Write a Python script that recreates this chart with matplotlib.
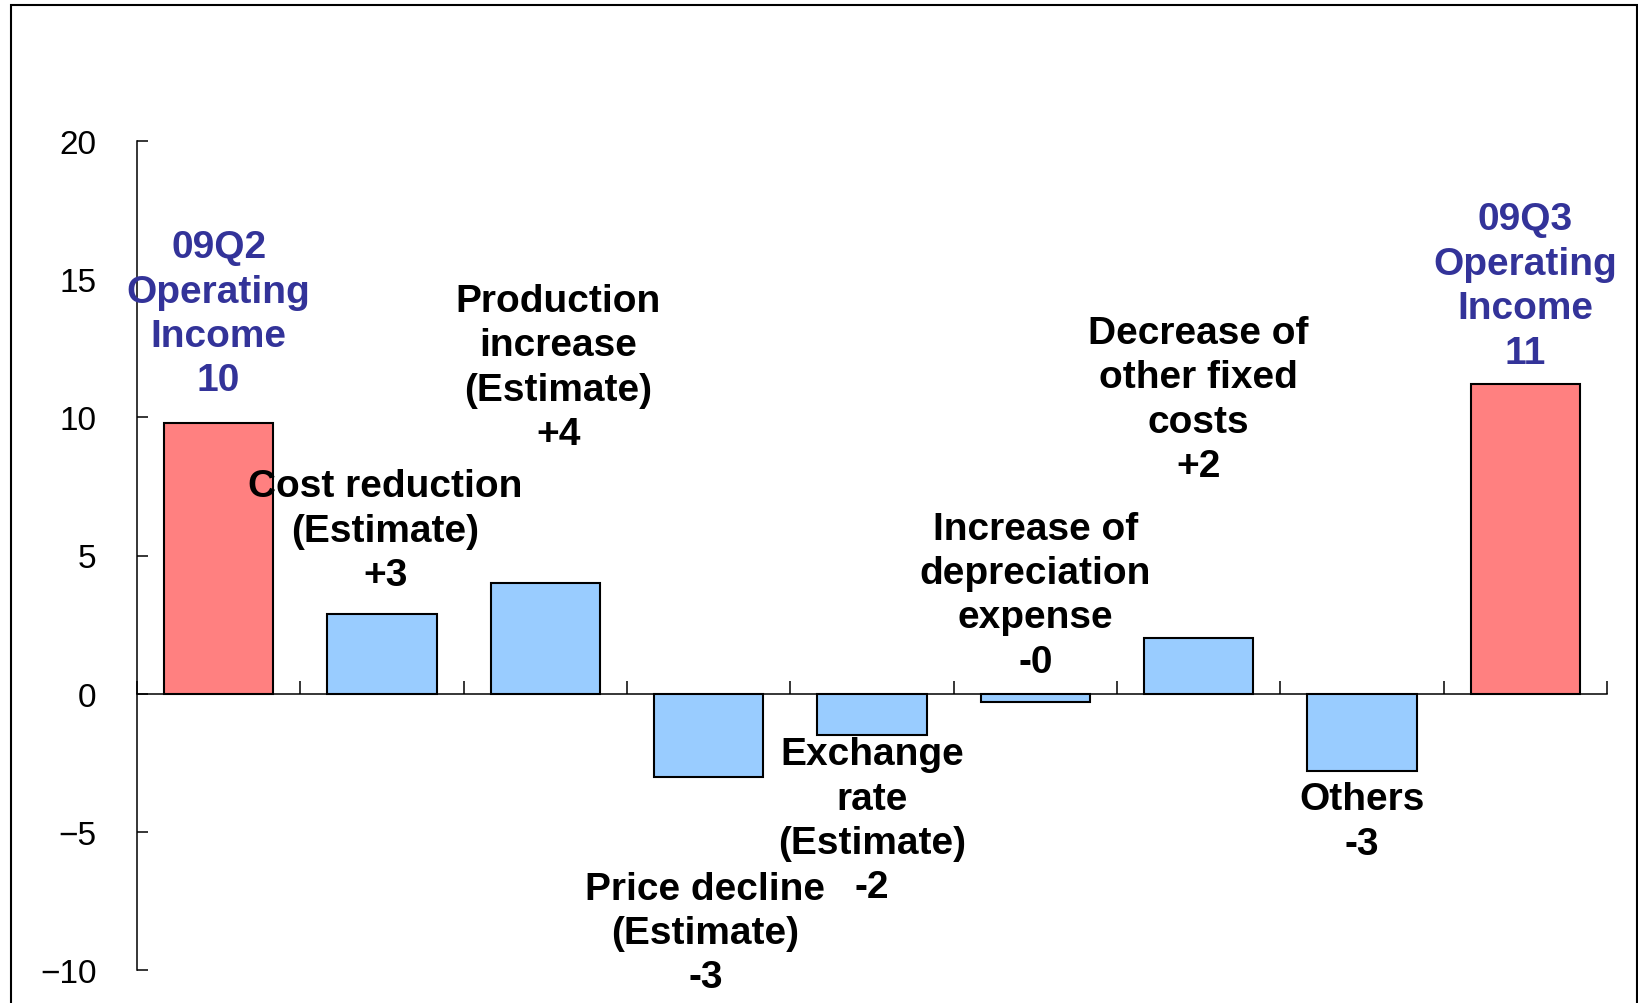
import matplotlib
matplotlib.use("Agg")
import matplotlib.pyplot as plt
from matplotlib.patches import Rectangle

# Operating income bridge, 09Q2 -> 09Q3
names = [
    "09Q2\nOperating\nIncome",
    "Cost reduction\n(Estimate)",
    "Production\nincrease\n(Estimate)",
    "Price decline\n(Estimate)",
    "Exchange\nrate\n(Estimate)",
    "Increase of\ndepreciation\nexpense",
    "Decrease of\nother fixed\ncosts",
    "Others",
    "09Q3\nOperating\nIncome",
]
values = [9.8, 2.9, 4.0, -3.0, -1.5, -0.3, 2.0, -2.8, 11.2]
is_total = [True, False, False, False, False, False, False, False, True]

# label anchor (x offset from bar centre, y in data units)
label_dx = [0.0, 0.02, 0.08, -0.02, 0.0, 0.0, 0.0, 0.0, 0.0]
label_y = [13.75, 5.9, 11.8, -8.66, -4.6, 3.56, 10.65, -4.63, 14.75]

yticks = [-10, -5, 0, 5, 10, 15, 20]

W, H = 1638, 1004
fig = plt.figure(figsize=(W / 100, H / 100), dpi=100)
plt.rcParams["font.family"] = ["Liberation Sans", "DejaVu Sans"]

# outer frame
fig.patches.append(Rectangle((11 / W, -0.05), (1637 - 11) / W, 1 - 6 / H + 0.05,
                             transform=fig.transFigure, fill=False,
                             edgecolor="black", linewidth=1.5))

left, right, top, bottom = 137, 1607, 142, 971
ax = fig.add_axes([left / W, 1 - bottom / H, (right - left) / W, (bottom - top) / H])

x = list(range(len(values)))
colors = ["#FF8080" if t else "#99CCFF" for t in is_total]
ax.bar(x, values, width=0.67, color=colors, edgecolor="black", linewidth=1.5, zorder=3)

for i, (name, v) in enumerate(zip(names, values)):
    if is_total[i]:
        txt = f"{name}\n{v:.0f}"
        col = "#333399"
    else:
        txt = f"{name}\n{v:+.0f}"
        col = "black"
    ax.text(i + label_dx[i], label_y[i], txt, ha="center", va="center",
            fontsize=28, fontweight="bold", color=col, linespacing=1.3,
            zorder=5)

ax.set_xlim(-0.5, len(values) - 0.5)
ax.set_ylim(-10, 20)
ax.set_yticks(yticks)
ax.set_xticks([i - 0.5 for i in range(len(values) + 1)])
ax.set_xticklabels([])

for s in ["top", "right"]:
    ax.spines[s].set_visible(False)
ax.spines["bottom"].set_position(("data", 0))
ax.spines["bottom"].set_linewidth(1.1)
ax.spines["left"].set_linewidth(1.1)
ax.spines["bottom"].set_zorder(4)

ax.tick_params(axis="y", direction="in", length=8, width=1.1, labelsize=24, pad=29)
ax.tick_params(axis="x", direction="in", length=9.4, width=1.1)

fig.savefig("out.png", dpi=100)
